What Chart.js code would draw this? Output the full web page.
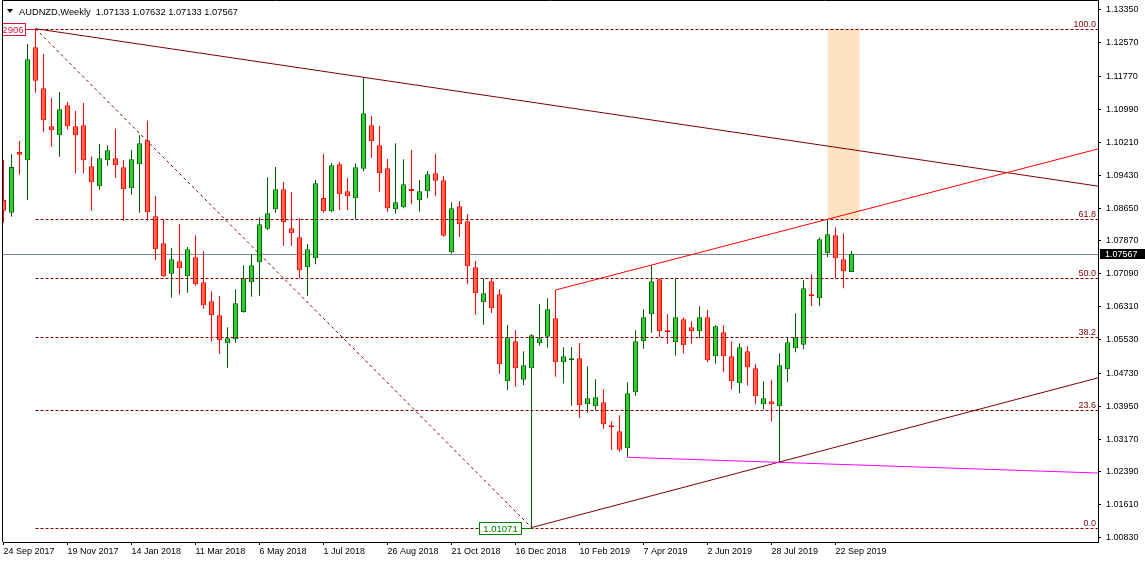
<!DOCTYPE html>
<html>
<head>
<meta charset="utf-8">
<script src="https://cdn.jsdelivr.net/npm/chart.js@4.4.1/dist/chart.umd.min.js"></script>
<style>
html, body { margin: 0; padding: 0; background: #fff; }
</style>
</head>
<body>
<canvas id="chart" width="1145" height="562"></canvas>
<script>
// AUDNZD weekly bars, first bar = week of 24 Sep 2017
const opens = [
  1.08842, 1.08541, 1.09981, 1.09784, 1.12465, 1.11492, 1.10591, 1.10377, 1.11089, 1.10591,
  1.10615, 1.09642, 1.09167, 1.09784, 1.09832, 1.09618, 1.09120, 1.09689, 1.10259, 1.08456,
  1.07815, 1.07094, 1.07388, 1.07032, 1.07483, 1.06890, 1.06439, 1.06107, 1.05443, 1.05537,
  1.06185, 1.06890, 1.07364, 1.08161, 1.08622, 1.09096, 1.08171, 1.07957, 1.07246, 1.07459,
  1.08890, 1.08574, 1.09689, 1.09049, 1.08883, 1.09585, 1.10615, 1.10140, 1.09594, 1.08622,
  1.08669, 1.09103, 1.08835, 1.09049, 1.09476, 1.09310, 1.07601, 1.08693, 1.08337, 1.07246,
  1.06415, 1.06913, 1.06605, 1.04541, 1.05490, 1.04579, 1.04849, 1.05443, 1.05599, 1.06036,
  1.04992, 1.05039, 1.05087, 1.03995, 1.03948, 1.04043, 1.03497, 1.03355, 1.02951, 1.04280,
  1.05490, 1.06130, 1.06961, 1.05741, 1.05466, 1.06012, 1.05822, 1.05727, 1.06059, 1.05134,
  1.05703, 1.05134, 1.04493, 1.05253, 1.04849, 1.03995, 1.04066, 1.03948, 1.04826, 1.05324,
  1.05409, 1.06605, 1.06510, 1.07578, 1.08005, 1.07435, 1.07133
];
const highs = [
  1.09791, 1.09934, 1.10242, 1.12543, 1.12906, 1.12306, 1.11262, 1.11405, 1.11167, 1.10954,
  1.11144, 1.09870, 1.10171, 1.10140, 1.10534, 1.09791, 1.10029, 1.10377, 1.10724, 1.08937,
  1.08392, 1.07703, 1.08273, 1.07727, 1.08005, 1.07625, 1.06676, 1.06565, 1.05822, 1.06724,
  1.07293, 1.07561, 1.08432, 1.09381, 1.09625, 1.09269, 1.09032, 1.08408, 1.07798, 1.09317,
  1.09934, 1.09720, 1.09744, 1.09364, 1.09713, 1.11753, 1.10835, 1.10598, 1.09815, 1.10188,
  1.09808, 1.10029, 1.09317, 1.09530, 1.09934, 1.09412, 1.08788, 1.08819, 1.08503, 1.07395,
  1.06968, 1.06985, 1.06724, 1.05877, 1.05751, 1.05253, 1.05663, 1.06368, 1.06510, 1.06707,
  1.05348, 1.05355, 1.05450, 1.04897, 1.04588, 1.04351, 1.03592, 1.03734, 1.04517, 1.05751,
  1.06249, 1.07293, 1.06975, 1.06130, 1.06985, 1.06059, 1.05964, 1.06320, 1.06233, 1.05870,
  1.05870, 1.05490, 1.05443, 1.05371, 1.04944, 1.04541, 1.04565, 1.05205, 1.05585, 1.06154,
  1.06937, 1.07080, 1.07957, 1.08385, 1.08195, 1.08052, 1.07632
];
const lows = [
  1.08304, 1.08446, 1.09443, 1.08842, 1.11388, 1.10463, 1.10107, 1.09870, 1.10520, 1.09476,
  1.09476, 1.08588, 1.09087, 1.09656, 1.09371, 1.08351, 1.08968, 1.08541, 1.08351, 1.07419,
  1.07020, 1.06524, 1.06596, 1.06643, 1.06809, 1.06263, 1.05490, 1.05196, 1.04864, 1.05457,
  1.06169, 1.06548, 1.06572, 1.08131, 1.08541, 1.07758, 1.07758, 1.06985, 1.06572, 1.07317,
  1.08541, 1.08550, 1.08598, 1.08598, 1.08384, 1.09523, 1.09846, 1.09039, 1.08565, 1.08517,
  1.08645, 1.08755, 1.08565, 1.08883, 1.08944, 1.07972, 1.07568, 1.07964, 1.06857, 1.06121,
  1.05884, 1.06161, 1.04721, 1.04327, 1.04413, 1.04446, 1.01071, 1.05386, 1.05338, 1.04650,
  1.04489, 1.03962, 1.03677, 1.03796, 1.03853, 1.03416, 1.02918, 1.02871, 1.02738, 1.04199,
  1.05314, 1.05694, 1.05585, 1.05433, 1.05148, 1.05205, 1.05433, 1.05561, 1.04992, 1.04959,
  1.04769, 1.04351, 1.04256, 1.04446, 1.03995, 1.03877, 1.03592, 1.02626, 1.04517, 1.05229,
  1.05300, 1.06320, 1.06320, 1.07483, 1.06985, 1.06747, 1.07133
];
const closes = [
  1.08588, 1.09625, 1.09917, 1.12180, 1.11673, 1.10733, 1.10496, 1.10994, 1.10591, 1.10377,
  1.09784, 1.09262, 1.09832, 1.10021, 1.09666, 1.09096, 1.09808, 1.10188, 1.08550, 1.07673,
  1.07032, 1.07435, 1.07222, 1.07673, 1.06842, 1.06344, 1.06107, 1.05514, 1.05561, 1.06392,
  1.06985, 1.07293, 1.08266, 1.08527, 1.09096, 1.08313, 1.08052, 1.07174, 1.07673, 1.09238,
  1.08574, 1.09666, 1.08978, 1.08930, 1.09618, 1.10899, 1.10235, 1.09476, 1.08645, 1.08788,
  1.09215, 1.09056, 1.09049, 1.09452, 1.09300, 1.07995, 1.08645, 1.08266, 1.07269, 1.06629,
  1.06629, 1.06273, 1.04944, 1.05585, 1.04849, 1.04921, 1.05632, 1.05561, 1.06249, 1.04992,
  1.05134, 1.05087, 1.03972, 1.04138, 1.04161, 1.03521, 1.03450, 1.02918, 1.04256, 1.05490,
  1.06059, 1.06913, 1.05727, 1.05703, 1.06059, 1.05395, 1.05727, 1.06059, 1.05039, 1.05846,
  1.05134, 1.04541, 1.05348, 1.04873, 1.04185, 1.04138, 1.03995, 1.04921, 1.05466, 1.05585,
  1.06747, 1.06558, 1.07910, 1.08029, 1.07459, 1.07151, 1.07567
];

const dateIdx = [0, 8, 16, 24, 32, 40, 48, 56, 64, 72, 80, 88, 96, 104];
const dateLabels = ['24 Sep 2017', '19 Nov 2017', '14 Jan 2018', '11 Mar 2018', '6 May 2018',
  '1 Jul 2018', '26 Aug 2018', '21 Oct 2018', '16 Dec 2018', '10 Feb 2019', '7 Apr 2019',
  '2 Jun 2019', '28 Jul 2019', '22 Sep 2019'];
const priceTicks = [1.13350, 1.12570, 1.11770, 1.10990, 1.10210, 1.09430, 1.08650, 1.07870,
  1.07090, 1.06310, 1.05530, 1.04730, 1.03950, 1.03170, 1.02390, 1.01610, 1.00830];

// fibonacci from the Oct 2017 high to the Jan 2019 flash-crash low
const fibFrom = [4, 1.12906];
const fibTo = [66, 1.01071];
const fibLevels = [100.0, 61.8, 50.0, 38.2, 23.6, 0.0];

// trend lines: two anchor points each [bar, price], extended to the right edge
const trendTop = [[4, 1.12906], [45, 1.11753]];
const trendRise = [[69, 1.06707], [103, 1.08385]];
const trendBase = [[66, 1.01071], [97, 1.02626]];
const magentaLine = [[78, 1.02738], [136.8, 1.02365]];
const zoneBars = [103, 107];

const symbolText = 'AUDNZD,Weekly  1.07133 1.07632 1.07133 1.07567';

const FONT = '"Liberation Sans", Arial, sans-serif';
const bull = closes.map((c, i) => c >= opens[i]);

function fibPrice(l) {
  return fibTo[1] + (fibFrom[1] - fibTo[1]) * l / 100;
}

function line(ctx, x0, y0, x1, y1, color, dash) {
  ctx.beginPath();
  ctx.strokeStyle = color;
  ctx.lineWidth = 1;
  ctx.setLineDash(dash || []);
  ctx.moveTo(x0, y0);
  ctx.lineTo(x1, y1);
  ctx.stroke();
  ctx.setLineDash([]);
}

// draws a trend line from its first anchor to the right edge
function ray(ctx, x, y, pts, color) {
  const [[a0, p0], [a1, p1]] = pts;
  const k = (p1 - p0) / (a1 - a0);
  const end = x.max;
  line(ctx, x.getPixelForValue(a0), y.getPixelForValue(p0),
    x.getPixelForValue(end), y.getPixelForValue(p0 + k * (end - a0)), color);
}

function noPad(s) {
  s.paddingTop = 0;
  s.paddingBottom = 0;
  s.paddingLeft = 0;
  s.paddingRight = 0;
}

const drawings = {
  id: 'drawings',
  beforeDatasetsDraw(chart) {
    const { ctx, chartArea: a, scales: { x, y } } = chart;
    ctx.save();
    ctx.beginPath();
    ctx.rect(a.left, a.top, a.right - a.left, a.bottom - a.top);
    ctx.clip();

    // target zone between 61.8 and 100
    const zx0 = x.getPixelForValue(zoneBars[0]);
    const zx1 = x.getPixelForValue(zoneBars[1]);
    const zy0 = y.getPixelForValue(fibPrice(100));
    const zy1 = y.getPixelForValue(fibPrice(61.8));
    ctx.fillStyle = 'rgb(253,227,196)';
    ctx.fillRect(zx0, zy0, zx1 - zx0, zy1 - zy0);

    // bid line
    const py = Math.round(y.getPixelForValue(closes[closes.length - 1])) + 0.5;
    line(ctx, a.left, py, a.right, py, '#778899');
    ctx.restore();
  },
  afterDatasetsDraw(chart) {
    const { ctx, chartArea: a, scales: { x, y } } = chart;
    ctx.save();
    ctx.beginPath();
    ctx.rect(a.left, a.top, a.right - a.left, a.bottom - a.top);
    ctx.clip();

    const fx0 = x.getPixelForValue(fibFrom[0]);
    const fx1 = x.getPixelForValue(fibTo[0]);

    // fib levels
    ctx.font = '9px ' + FONT;
    ctx.textAlign = 'right';
    ctx.textBaseline = 'alphabetic';
    fibLevels.forEach(l => {
      const ly = Math.round(y.getPixelForValue(fibPrice(l))) + 0.5;
      line(ctx, fx0, ly, a.right, ly, '#800000', [3, 2]);
      ctx.fillStyle = '#800000';
      ctx.fillText(l.toFixed(1), a.right - 2, ly - 3);
    });

    // fib diagonal
    line(ctx, fx0, y.getPixelForValue(fibFrom[1]), fx1, y.getPixelForValue(fibTo[1]), '#800000', [3, 3]);

    ray(ctx, x, y, trendTop, '#800000');
    ray(ctx, x, y, trendRise, '#ff0000');
    ray(ctx, x, y, trendBase, '#800000');

    line(ctx, x.getPixelForValue(magentaLine[0][0]), y.getPixelForValue(magentaLine[0][1]),
      x.getPixelForValue(magentaLine[1][0]), y.getPixelForValue(magentaLine[1][1]), '#ff00ff');

    // price label at the high
    const hy = Math.round(y.getPixelForValue(fibFrom[1])) + 0.5;
    const hb = fx0 - 10;
    line(ctx, hb, hy, fx0, hy, '#dc143c');
    ctx.fillStyle = '#fff';
    ctx.fillRect(a.left - 1, hy - 6, hb - a.left + 1, 12);
    ctx.strokeStyle = '#dc143c';
    ctx.strokeRect(a.left - 0.5, hy - 6, hb - a.left + 0.5, 12);
    ctx.fillStyle = '#dc143c';
    ctx.font = '9.5px ' + FONT;
    ctx.textAlign = 'right';
    ctx.textBaseline = 'middle';
    ctx.fillText('2906', hb - 2, hy + 0.5);

    // price label at the low
    const ly = Math.round(y.getPixelForValue(fibTo[1])) + 0.5;
    const lb = fx1 - 10;
    line(ctx, lb, ly, fx1, ly, '#008000');
    ctx.fillStyle = '#fff';
    ctx.fillRect(lb - 42, ly - 6, 42, 12);
    ctx.strokeStyle = '#008000';
    ctx.strokeRect(lb - 42, ly - 6, 42, 12);
    ctx.fillStyle = '#008000';
    ctx.textAlign = 'center';
    ctx.fillText(fibTo[1].toFixed(5), lb - 21, ly + 0.5);
    ctx.restore();
  },
  afterDraw(chart) {
    const { ctx, chartArea: a, scales: { y } } = chart;
    ctx.save();
    // frame
    line(ctx, a.left - 0.5, 0, a.left - 0.5, a.bottom, '#000');
    line(ctx, a.left - 1, 0.5, a.right + 1, 0.5, '#000');

    // header
    ctx.fillStyle = '#000';
    ctx.beginPath();
    ctx.moveTo(7, 9);
    ctx.lineTo(13, 9);
    ctx.lineTo(10, 13);
    ctx.closePath();
    ctx.fill();
    ctx.font = '9.3px ' + FONT;
    ctx.textAlign = 'left';
    ctx.textBaseline = 'alphabetic';
    ctx.fillText(symbolText, 19, 14.5);

    // current price box on the axis
    const last = closes[closes.length - 1];
    const py = Math.round(y.getPixelForValue(last));
    ctx.fillStyle = '#000';
    ctx.fillRect(a.right + 2, py - 5, 1145 - a.right - 2, 10);
    ctx.fillStyle = '#fff';
    ctx.font = '9px ' + FONT;
    ctx.textBaseline = 'middle';
    ctx.fillText(last.toFixed(5), a.right + 7, py + 0.5);
    ctx.restore();
  }
};

new Chart(document.getElementById('chart'), {
  type: 'bar',
  data: {
    datasets: [{
      label: 'wicks',
      data: lows.map((l, i) => ({ x: i, y: [l, highs[i]] })),
      backgroundColor: bull.map(b => b ? '#006400' : '#ff0000'),
      borderWidth: 0,
      barThickness: 1,
      inflateAmount: 0,
      grouped: false,
      order: 2
    }, {
      label: 'bodies',
      data: opens.map((o, i) => ({ x: i, y: [o, closes[i]] })),
      backgroundColor: bull.map(b => b ? '#32cd32' : '#ff6347'),
      borderColor: bull.map(b => b ? '#006400' : '#ff0000'),
      borderWidth: 1,
      borderSkipped: false,
      barThickness: 5,
      minBarLength: 2,
      inflateAmount: 0,
      grouped: false,
      order: 1
    }]
  },
  options: {
    responsive: false,
    animation: false,
    layout: { padding: { left: 3, top: 1, right: 0, bottom: 0 } },
    plugins: { legend: { display: false }, tooltip: { enabled: false } },
    scales: {
      x: {
        type: 'linear',
        min: -0.0625,
        max: 136.8125,
        offset: false,
        grid: { drawOnChartArea: false, drawTicks: true, tickLength: 3, color: '#000', offset: false },
        border: { display: true, color: '#000' },
        ticks: {
          autoSkip: false,
          maxRotation: 0,
          align: 'start',
          padding: 1,
          color: '#000',
          font: { family: FONT, size: 9 },
          callback: v => dateLabels[dateIdx.indexOf(v)] || ''
        },
        afterBuildTicks: s => { s.ticks = dateIdx.map(v => ({ value: v })); },
        afterFit: s => { s.height = 20; noPad(s); }
      },
      y: {
        position: 'right',
        min: 1.007284,
        max: 1.135635,
        grid: { drawOnChartArea: false, drawTicks: true, tickLength: 3, color: '#000' },
        border: { display: true, color: '#000' },
        ticks: {
          padding: 5,
          color: '#000',
          font: { family: FONT, size: 9 },
          callback: v => Number(v).toFixed(5)
        },
        afterBuildTicks: s => { s.ticks = priceTicks.map(v => ({ value: v })); },
        afterFit: s => { s.width = 47; noPad(s); }
      }
    }
  },
  plugins: [drawings]
});
</script>
</body>
</html>
